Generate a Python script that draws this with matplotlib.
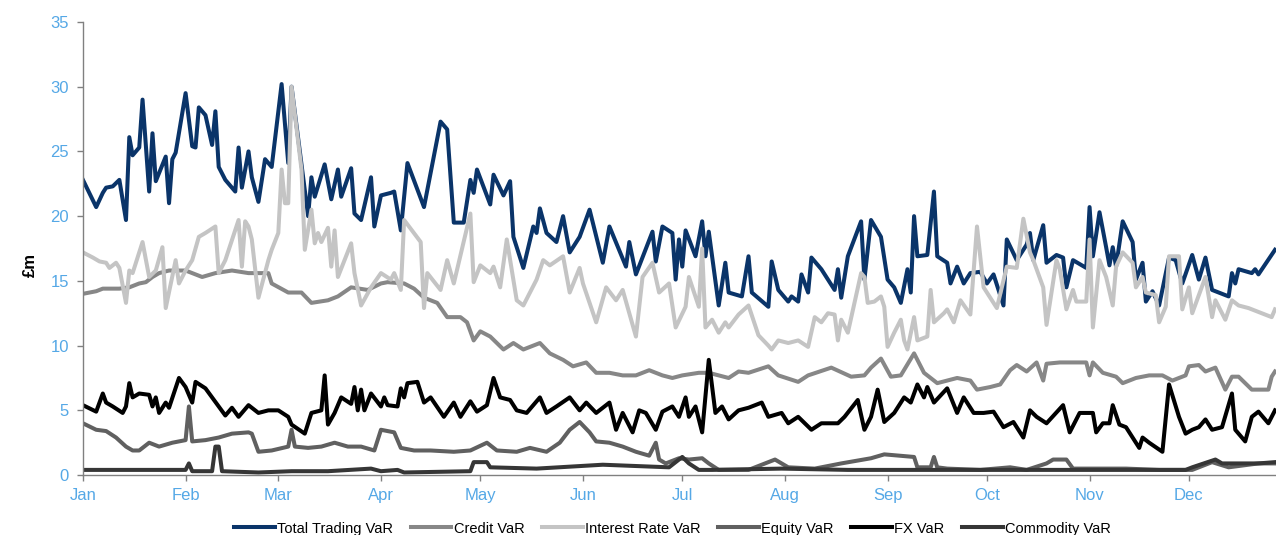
import matplotlib
matplotlib.use("Agg")
import matplotlib.pyplot as plt

plt.rcParams['font.family'] = ['Liberation Sans', 'DejaVu Sans']

# Day of year (0 = 1 Jan) and VaR in £m for each risk type
total_day = [0, 4, 6, 7, 9, 11, 13, 14, 15, 17, 18, 20, 21, 22, 25, 26, 27, 28, 31, 33,
             34, 35, 37, 39, 40, 41, 43, 46, 47, 48, 50, 51, 53, 55, 57, 60, 62, 63, 68, 69,
             70, 73, 75, 77, 78, 81, 82, 84, 87, 88, 90, 93, 94, 96, 98, 103, 108, 110, 112, 115,
             117, 118, 119, 123, 124, 127, 129, 130, 133, 136, 137, 138, 140, 143, 145, 147, 150, 153, 157, 159,
             164, 165, 167, 172, 173, 175, 178, 179, 180, 181, 182, 185, 187, 188, 189, 192, 194, 195, 199, 201,
             202, 207, 208, 210, 213, 214, 216, 217, 219, 220, 223, 227, 228, 229, 231, 235, 236, 238, 241, 243,
             245, 247, 249, 250, 251, 252, 255, 257, 258, 261, 262, 264, 266, 268, 271, 273, 275, 278, 279, 282,
             285, 286, 287, 290, 291, 294, 296, 297, 299, 303, 304, 305, 307, 309, 310, 311, 312, 314, 317, 318,
             320, 321, 323, 325, 328, 330, 332, 335, 337, 339, 341, 346, 347, 348, 349, 353, 354, 355, 360]
total_var = [22.8, 20.7, 21.8, 22.2, 22.3, 22.8, 19.7, 26.1, 24.7, 25.3, 29.0, 21.9, 26.4, 22.7, 24.6, 21.0, 24.4, 24.9, 29.5, 25.4,
             25.3, 28.4, 27.8, 25.5, 28.1, 23.8, 22.8, 21.9, 25.3, 22.2, 25.0, 23.0, 21.1, 24.4, 23.8, 30.2, 24.1, 30.0, 20.0, 23.0,
             21.5, 24.0, 21.3, 23.6, 21.5, 23.7, 20.2, 19.7, 23.0, 19.2, 21.6, 21.8, 21.9, 18.9, 24.1, 20.7, 27.3, 26.7, 19.5, 19.5,
             22.8, 21.8, 23.6, 20.9, 23.2, 21.6, 22.7, 18.4, 16.0, 19.2, 18.7, 20.6, 18.7, 18.0, 20.0, 17.2, 18.4, 20.5, 16.4, 19.2,
             16.1, 18.0, 15.5, 18.8, 16.5, 19.2, 18.7, 15.1, 18.2, 16.1, 18.9, 16.9, 19.6, 16.9, 18.8, 13.1, 16.4, 14.1, 13.8, 16.9,
             14.1, 13.0, 16.5, 14.3, 13.4, 13.8, 13.4, 15.5, 14.1, 16.8, 15.9, 14.3, 15.9, 13.7, 16.9, 19.6, 15.1, 19.7, 18.4, 15.1,
             14.5, 13.3, 15.9, 14.1, 20.0, 16.9, 17.0, 21.9, 16.9, 16.4, 14.8, 16.1, 14.8, 15.6, 15.7, 14.8, 15.5, 13.1, 18.2, 16.6,
             17.8, 18.7, 16.6, 19.3, 16.4, 17.0, 16.8, 14.5, 16.6, 16.0, 20.7, 16.9, 20.3, 17.6, 16.2, 17.6, 16.1, 19.6, 18.0, 15.1,
             16.4, 13.4, 14.2, 13.1, 16.8, 16.6, 14.8, 17.0, 15.1, 16.8, 14.3, 13.8, 15.6, 14.8, 15.9, 15.6, 15.9, 15.5, 17.4]

credit_day = [0, 4, 6, 11, 14, 17, 19, 21, 23, 26, 31, 36, 40, 45, 50, 56, 57, 62, 66, 69,
              74, 77, 81, 86, 90, 92, 97, 100, 103, 107, 110, 114, 116, 118, 120, 123, 127, 130, 133, 138,
              141, 145, 148, 152, 155, 159, 163, 167, 171, 175, 178, 181, 186, 189, 195, 198, 201, 207, 210, 216,
              219, 226, 232, 236, 238, 241, 244, 247, 251, 254, 258, 264, 268, 270, 274, 277, 280, 282, 285, 288,
              290, 291, 295, 299, 303, 304, 305, 308, 312, 314, 318, 322, 326, 329, 333, 334, 337, 339, 342, 345,
              347, 349, 351, 353, 358, 359, 360]
credit_var = [14.0, 14.2, 14.4, 14.4, 14.5, 14.8, 14.9, 15.3, 15.6, 15.8, 15.8, 15.3, 15.6, 15.8, 15.6, 15.6, 14.8, 14.1, 14.1, 13.3,
              13.5, 13.8, 14.5, 14.3, 14.8, 14.9, 14.8, 14.4, 13.7, 13.3, 12.2, 12.2, 11.8, 10.4, 11.1, 10.7, 9.7, 10.2, 9.7, 10.2,
              9.4, 8.9, 8.4, 8.7, 7.9, 7.9, 7.7, 7.7, 8.1, 7.7, 7.5, 7.7, 7.9, 7.9, 7.5, 8.0, 7.9, 8.4, 7.7, 7.2,
              7.7, 8.3, 7.6, 7.7, 8.3, 9.0, 7.6, 7.7, 9.4, 7.9, 7.1, 7.5, 7.3, 6.6, 6.8, 7.0, 8.1, 8.5, 8.0, 8.7,
              7.3, 8.6, 8.7, 8.7, 8.7, 7.7, 8.7, 7.9, 7.6, 7.1, 7.5, 7.7, 7.7, 7.3, 7.7, 8.4, 8.5, 8.0, 8.3, 6.6,
              7.6, 7.6, 7.1, 6.6, 6.6, 7.6, 8.0]

rates_day = [0, 3, 5, 7, 8, 10, 11, 13, 14, 15, 18, 20, 22, 24, 25, 28, 29, 31, 33, 35,
             37, 40, 41, 43, 47, 48, 49, 50, 51, 53, 56, 57, 59, 60, 61, 62, 63, 66, 67, 69,
             70, 71, 72, 74, 75, 76, 77, 79, 81, 82, 84, 87, 90, 93, 94, 96, 97, 102, 103, 104,
             108, 110, 112, 117, 118, 120, 123, 124, 126, 128, 131, 133, 137, 139, 141, 145, 147, 150, 151, 155,
             158, 161, 163, 167, 169, 172, 174, 177, 179, 182, 183, 186, 187, 188, 190, 192, 194, 195, 198, 201,
             204, 207, 208, 210, 213, 216, 219, 221, 223, 225, 227, 228, 229, 231, 235, 236, 237, 239, 241, 242,
             243, 245, 247, 248, 249, 251, 252, 255, 256, 257, 260, 261, 263, 265, 268, 270, 272, 276, 279, 282,
             284, 286, 287, 290, 291, 294, 295, 297, 299, 300, 303, 304, 305, 307, 309, 311, 312, 314, 317, 318,
             320, 321, 324, 325, 327, 328, 331, 332, 334, 335, 339, 341, 342, 345, 347, 349, 352, 355, 359, 360]
rates_var = [17.2, 16.8, 16.5, 16.4, 16.0, 16.4, 16.0, 13.3, 15.8, 15.6, 18.0, 15.3, 15.8, 17.6, 12.9, 16.6, 14.8, 15.8, 16.6, 18.4,
             18.7, 19.2, 15.6, 16.6, 19.7, 16.1, 19.6, 19.2, 18.2, 13.7, 16.6, 17.4, 18.7, 23.6, 21.0, 21.0, 30.0, 23.6, 17.4, 20.5,
             17.9, 18.7, 18.0, 19.1, 16.1, 18.9, 15.3, 16.6, 17.9, 15.6, 13.1, 14.5, 15.6, 15.1, 15.6, 14.3, 19.7, 18.0, 12.9, 15.6,
             14.3, 16.6, 14.8, 20.2, 14.9, 16.2, 15.6, 16.1, 14.5, 18.2, 13.5, 13.1, 15.1, 16.6, 16.2, 16.9, 14.1, 16.0, 14.8, 11.8,
             14.5, 13.5, 14.3, 10.7, 15.3, 16.4, 14.1, 14.8, 11.4, 13.0, 15.3, 13.0, 17.5, 11.4, 12.0, 11.0, 11.8, 11.4, 12.4, 13.1,
             10.8, 10.0, 9.7, 10.4, 10.2, 10.4, 9.9, 12.2, 11.8, 12.5, 12.4, 10.4, 12.0, 11.0, 15.6, 15.3, 13.3, 13.4, 13.8, 13.0,
             9.9, 11.0, 12.0, 10.4, 9.7, 12.2, 10.4, 10.7, 14.3, 11.8, 12.5, 12.8, 11.8, 13.5, 12.4, 19.2, 14.5, 12.9, 16.1, 16.0,
             19.8, 17.2, 16.6, 14.5, 11.6, 16.6, 15.9, 12.8, 14.3, 13.4, 13.4, 18.2, 11.4, 16.6, 15.3, 13.1, 16.1, 17.2, 16.4, 14.5,
             15.3, 14.1, 13.9, 11.8, 13.0, 16.9, 16.9, 12.8, 14.5, 12.5, 15.3, 12.2, 13.5, 12.0, 13.5, 13.1, 12.9, 12.6, 12.2, 12.8]

equity_day = [0, 4, 7, 10, 13, 15, 17, 20, 23, 27, 31, 32, 33, 37, 41, 45, 50, 51, 53, 57,
              62, 63, 64, 68, 72, 76, 80, 84, 88, 90, 94, 96, 100, 105, 112, 117, 122, 125, 131, 135,
              140, 144, 147, 150, 153, 155, 159, 163, 167, 171, 173, 174, 176, 180, 183, 187, 189, 192, 201, 209,
              213, 221, 229, 238, 242, 251, 252, 256, 257, 258, 261, 271, 280, 285, 291, 293, 297, 299, 315, 325,
              335, 341, 346, 355, 360]
equity_var = [4.0, 3.5, 3.4, 2.9, 2.2, 1.9, 1.9, 2.5, 2.2, 2.5, 2.7, 5.3, 2.6, 2.7, 2.9, 3.2, 3.3, 3.2, 1.8, 1.9,
              2.2, 3.5, 2.2, 2.1, 2.2, 2.5, 2.2, 2.2, 1.9, 3.5, 3.3, 2.1, 1.9, 1.9, 1.8, 1.9, 2.5, 1.9, 1.8, 2.1,
              1.8, 2.5, 3.5, 4.1, 3.3, 2.6, 2.5, 2.2, 1.8, 1.5, 2.5, 1.2, 0.9, 1.3, 1.2, 1.3, 0.9, 0.4, 0.4, 1.2,
              0.6, 0.5, 0.9, 1.3, 1.6, 1.4, 0.6, 0.6, 1.4, 0.6, 0.5, 0.4, 0.6, 0.4, 0.9, 1.2, 1.2, 0.5, 0.5, 0.4,
              0.4, 1.0, 0.6, 0.9, 0.9]

fx_day = [0, 4, 6, 7, 9, 12, 13, 14, 15, 17, 20, 21, 22, 23, 25, 26, 29, 31, 33, 34,
          37, 41, 43, 45, 47, 50, 53, 56, 59, 62, 63, 67, 69, 72, 73, 74, 76, 78, 81, 82,
          83, 84, 85, 87, 90, 91, 92, 95, 96, 97, 98, 101, 103, 105, 109, 112, 114, 117, 119, 122,
          124, 126, 129, 131, 134, 138, 140, 143, 147, 150, 152, 155, 159, 161, 163, 166, 168, 170, 173, 175,
          178, 180, 182, 183, 185, 187, 189, 191, 193, 195, 198, 201, 205, 207, 211, 213, 216, 220, 223, 228,
          230, 234, 236, 238, 240, 242, 245, 248, 250, 252, 254, 255, 257, 261, 264, 266, 269, 272, 275, 278,
          281, 284, 286, 288, 291, 296, 298, 301, 305, 306, 308, 310, 311, 313, 315, 319, 320, 322, 326, 328,
          331, 333, 335, 337, 339, 341, 344, 347, 348, 351, 353, 355, 358, 360]
fx_var = [5.4, 4.9, 6.3, 5.6, 5.3, 4.8, 5.3, 7.1, 6.0, 6.3, 6.2, 5.3, 6.0, 4.8, 5.6, 5.2, 7.5, 6.8, 5.6, 7.2,
          6.7, 5.3, 4.6, 5.2, 4.5, 5.4, 4.8, 5.0, 5.0, 4.5, 3.9, 3.2, 4.8, 5.0, 7.7, 3.9, 4.8, 6.0, 5.5, 6.8,
          5.0, 6.6, 5.0, 6.3, 5.3, 6.0, 5.4, 5.3, 6.7, 6.0, 7.1, 7.2, 5.6, 6.0, 4.5, 5.6, 4.5, 5.7, 4.9, 5.4,
          7.5, 6.0, 5.8, 5.0, 4.8, 6.0, 4.8, 5.3, 6.0, 5.0, 5.6, 4.8, 5.6, 3.5, 4.8, 3.3, 5.0, 4.8, 3.5, 4.9,
          5.3, 4.5, 6.0, 4.5, 5.3, 3.3, 8.9, 4.8, 5.3, 4.3, 5.0, 5.2, 5.6, 4.5, 4.8, 4.0, 4.5, 3.5, 4.0, 4.0,
          4.5, 5.8, 3.5, 4.5, 6.6, 4.1, 4.8, 6.0, 5.6, 7.0, 6.0, 6.8, 5.6, 6.7, 4.8, 6.0, 4.8, 4.8, 4.9, 3.7,
          4.1, 2.9, 5.0, 4.5, 4.0, 5.4, 3.3, 4.8, 4.8, 3.3, 4.0, 4.0, 5.4, 3.9, 3.7, 2.1, 2.9, 2.5, 1.8, 7.0,
          4.5, 3.2, 3.5, 3.7, 4.3, 3.5, 3.7, 6.3, 3.5, 2.6, 4.5, 4.9, 4.0, 5.0]

commodity_day = [0, 31, 32, 33, 39, 40, 41, 42, 53, 63, 74, 87, 90, 95, 97, 117, 118, 122, 123, 137,
                 157, 177, 181, 183, 186, 190, 211, 231, 241, 280, 325, 333, 335, 342, 344, 355, 360]
commodity_var = [0.4, 0.4, 0.9, 0.3, 0.3, 2.2, 2.2, 0.3, 0.2, 0.3, 0.3, 0.5, 0.3, 0.4, 0.2, 0.3, 1.0, 1.0, 0.6, 0.5,
                 0.8, 0.6, 1.4, 0.9, 0.4, 0.4, 0.5, 0.4, 0.4, 0.4, 0.4, 0.4, 0.6, 1.2, 0.9, 0.9, 1.0]

month_start = [0, 31, 59, 90, 120, 151, 181, 212, 243, 273, 304, 334]
month_names = ['Jan', 'Feb', 'Mar', 'Apr', 'May', 'Jun', 'Jul', 'Aug', 'Sep', 'Oct', 'Nov', 'Dec']

series = [
    ('Total Trading VaR', total_day, total_var, '#0a3469'),
    ('Credit VaR', credit_day, credit_var, '#878787'),
    ('Interest Rate VaR', rates_day, rates_var, '#c4c4c4'),
    ('Equity VaR', equity_day, equity_var, '#606060'),
    ('FX VaR', fx_day, fx_var, '#000000'),
    ('Commodity VaR', commodity_day, commodity_var, '#363636'),
]

fig = plt.figure(figsize=(12.76, 5.35), dpi=100)
ax = fig.add_axes([0.065, 0.112, 0.935, 0.847])

for name, x, y, col in series:
    ax.plot(x, y, color=col, lw=2.9, label=name, solid_joinstyle='round')

ax.set_xlim(0, 360.3)
ax.set_ylim(0, 35)
ax.set_yticks(range(0, 36, 5))
ax.set_xticks(month_start)
ax.set_xticklabels(month_names)

for side in ['top', 'right']:
    ax.spines[side].set_visible(False)
for side in ['left', 'bottom']:
    ax.spines[side].set_color('#808080')
    ax.spines[side].set_linewidth(1.0)

ax.tick_params(axis='both', colors='#808080', labelcolor='#55a8e6', labelsize=12,
               length=4, width=1, direction='out')
ax.tick_params(axis='x', pad=5)
ax.tick_params(axis='y', pad=6)

fig.text(0.024, 0.505, '£m', rotation=90, ha='center', va='center',
         fontsize=12, fontweight='bold', color='#000000')

fig.legend(loc='center', bbox_to_anchor=(0.527, 0.012), ncol=6, frameon=False,
           fontsize=10.5, handlelength=2.8, handletextpad=0.15, columnspacing=1.2)

fig.savefig('out.png', dpi=100)
